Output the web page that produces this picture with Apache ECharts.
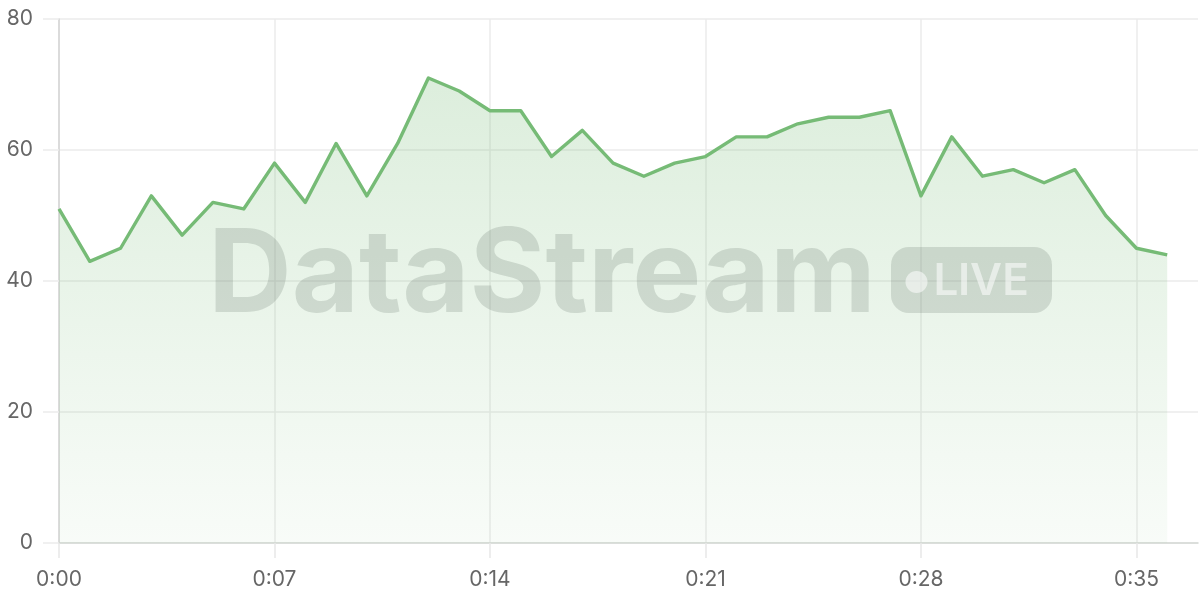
<!DOCTYPE html>
<html>
<head>
<meta charset="utf-8">
<script src="https://cdn.jsdelivr.net/npm/echarts@6/dist/echarts.min.js"></script>
<style>
html,body{margin:0;padding:0;background:#fff;}
#chart{width:1200px;height:600px;}
</style>
</head>
<body>
<div id="chart"></div>
<script>
const timeLabels = ['0:00','0:01','0:02','0:03','0:04','0:05','0:06','0:07','0:08','0:09',
  '0:10','0:11','0:12','0:13','0:14','0:15','0:16','0:17','0:18','0:19',
  '0:20','0:21','0:22','0:23','0:24','0:25','0:26','0:27','0:28','0:29',
  '0:30','0:31','0:32','0:33','0:34','0:35','0:36','0:37'];
const values = [51,43,45,53,47,52,51,58,52,61,
  53,61,71,69,66,66,59,63,58,56,
  58,59,62,62,64,65,65,66,53,62,
  56,57,55,57,50,45,44];
const yTicks = { min: 0, max: 80, interval: 20 };
const watermarkText = 'DataStream';
const badgeLetters = ['L','I','V','E'];

const chart = echarts.init(document.getElementById('chart'), null, { renderer: 'canvas' });
const wmColor = 'rgba(90,105,95,0.2)';
const badgeTextColor = 'rgba(255,255,255,0.55)';
const letterCenters = [946, 964, 986, 1015.5];

const graphics = [
  { type: 'text', z: 50, silent: true,
    style: { x: 208, y: 277, text: watermarkText, fill: wmColor,
      font: 'bold 116px Inter, "Noto Sans", sans-serif', verticalAlign: 'middle', align: 'left' } },
  { type: 'rect', z: 50, silent: true,
    shape: { x: 891, y: 247, width: 161, height: 66, r: 18 },
    style: { fill: wmColor } },
  { type: 'circle', z: 51, silent: true,
    shape: { cx: 916.5, cy: 282, r: 11 },
    style: { fill: badgeTextColor } }
];
badgeLetters.forEach((ch, i) => {
  graphics.push({ type: 'text', z: 51, silent: true,
    style: { x: letterCenters[i], y: 282, text: ch, fill: badgeTextColor,
      font: '600 44px Inter, "Noto Sans", sans-serif', verticalAlign: 'middle', align: 'center' } });
});

chart.setOption({
  animation: false,
  backgroundColor: '#ffffff',
  grid: { left: 59, right: 2, top: 19, bottom: 57, containLabel: false },
  xAxis: {
    type: 'category',
    data: timeLabels,
    boundaryGap: false,
    axisLine: { show: true, lineStyle: { color: '#d3d8d3', width: 1.5 } },
    axisTick: { show: true, interval: 6, length: 15, lineStyle: { color: '#e8e8e8', width: 1.5 } },
    axisLabel: { interval: 6, margin: 26, color: '#666', fontSize: 21, fontFamily: 'Inter, "Noto Sans", sans-serif' },
    splitLine: { show: true, interval: 6, lineStyle: { color: '#ebebeb', width: 1.5 } }
  },
  yAxis: {
    type: 'value',
    min: yTicks.min, max: yTicks.max, interval: yTicks.interval,
    axisLine: { show: true, lineStyle: { color: '#d4d4d4', width: 1.5 } },
    axisTick: { show: true, length: 16, lineStyle: { color: '#ebebeb', width: 1.5 } },
    axisLabel: { margin: 26, color: '#666', fontSize: 21, fontFamily: 'Inter, "Noto Sans", sans-serif' },
    splitLine: { show: true, lineStyle: { color: '#ebebeb', width: 1.5 } }
  },
  series: [{
    type: 'line',
    data: values,
    showSymbol: false,
    symbol: 'none',
    lineStyle: { color: '#76bb76', width: 3.4, join: 'round' },
    itemStyle: { color: '#76bb76' },
    areaStyle: {
      color: new echarts.graphic.LinearGradient(0, 0, 0, 1, [
        { offset: 0, color: 'rgba(118,187,118,0.36)' },
        { offset: 1, color: 'rgba(118,187,118,0.07)' }
      ])
    },
    z: 10
  }],
  graphic: graphics
});
</script>
</body>
</html>
